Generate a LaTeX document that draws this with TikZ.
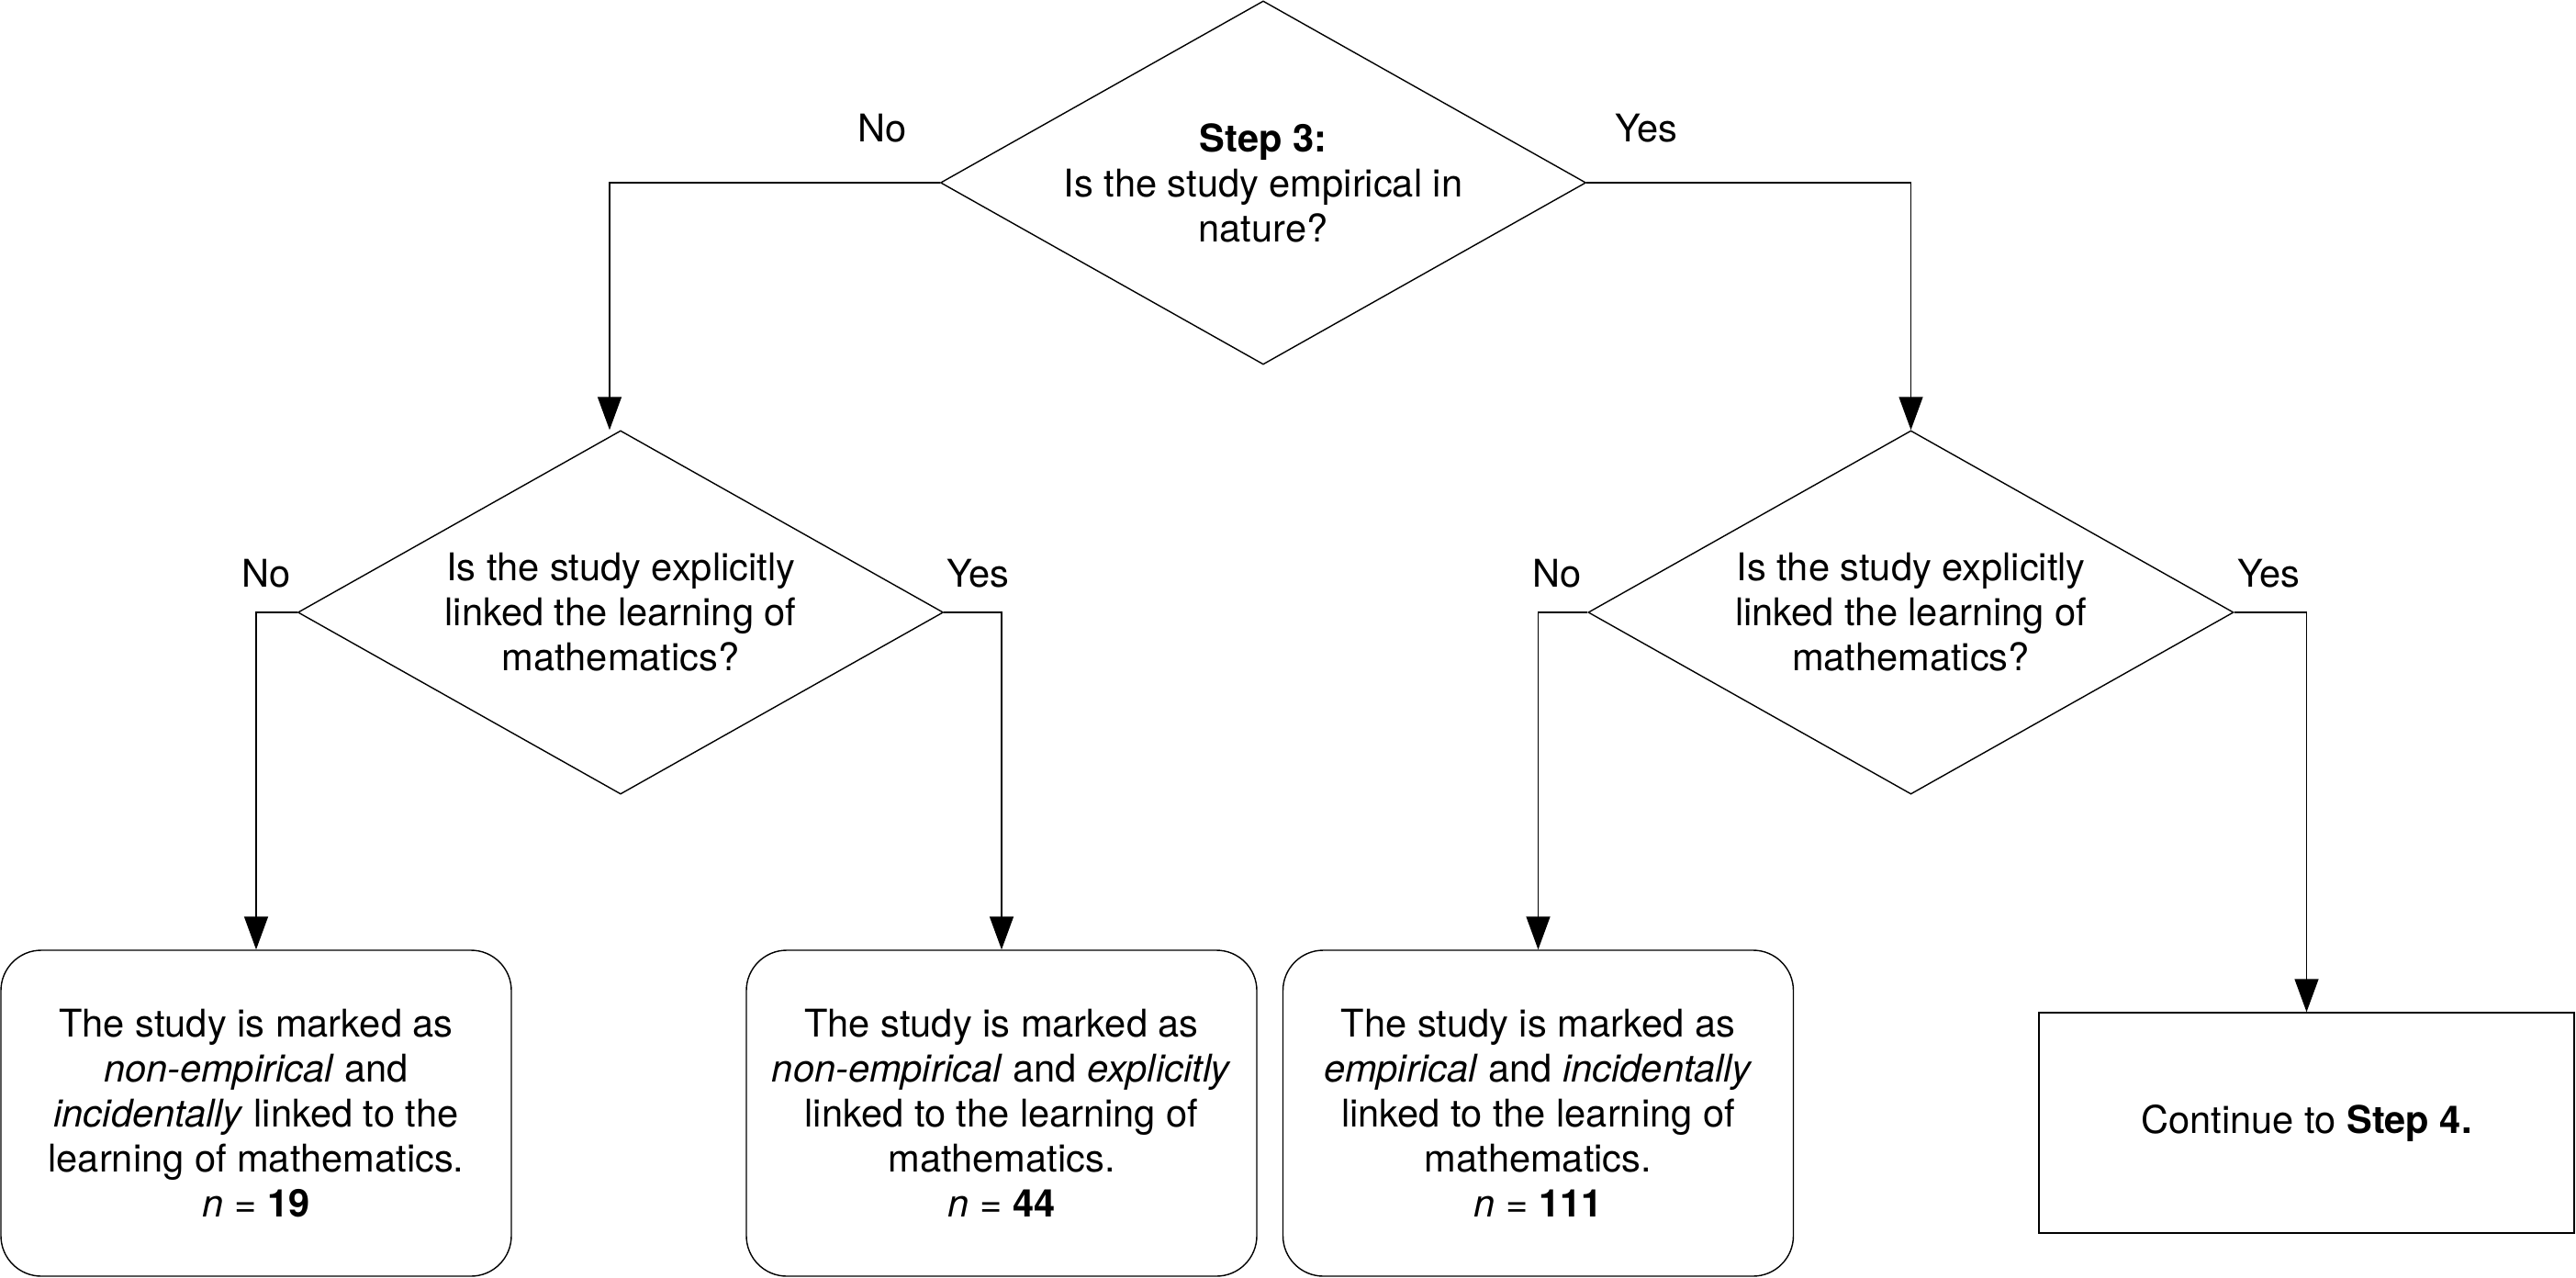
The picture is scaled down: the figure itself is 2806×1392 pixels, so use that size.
\documentclass[tikz,border=0pt]{standalone}
\usepackage{fontspec}
\setmainfont{TeX Gyre Heros}
\usetikzlibrary{shapes.geometric,arrows.meta}
\begin{document}
\begin{tikzpicture}[x=0.5pt,y=-0.5pt,
  every node/.style={font=\fontsize{20.8pt}{24.5pt}\selectfont},
  dec/.style={shape=diamond, draw, line width=0.7pt, inner sep=0pt, minimum width=351.5pt, minimum height=198pt},
  dtext/.style={align=center, inner sep=0pt},
  res/.style={draw, line width=0.7pt, rounded corners=22pt, minimum width=278pt, minimum height=177.5pt, align=center, inner sep=0pt},
  fin/.style={draw, line width=0.7pt, minimum width=291.5pt, minimum height=120pt, align=center, inner sep=0pt},
  lbl/.style={inner sep=0pt},
  arr/.style={draw, line width=0.7pt, -{Triangle[length=18pt,width=13pt]}},
]
\useasboundingbox (0,0) rectangle (2806,1392);

\node[dec] (d1) at (1376,199) {};
\node[dtext] (t1) at (d1.center) {\textbf{Step 3:}\\Is the study empirical in\\nature?};
\node[dec] (d2) at (676,667) {};
\node[dtext] (t2) at (d2.center) {Is the study explicitly\\linked the learning of\\mathematics?};
\node[dec] (d3) at (2081.5,667) {};
\node[dtext] (t3) at (d3.center) {Is the study explicitly\\linked the learning of\\mathematics?};

\node[res] (b1) at (279,1212.5) {The study is marked as\\\textit{non-empirical} and\\\textit{incidentally} linked to the\\learning of mathematics.\\\textit{n} = \textbf{19}};
\node[res] (b2) at (1091,1212.5) {The study is marked as\\\textit{non-empirical} and \textit{explicitly}\\linked to the learning of\\mathematics.\\\textit{n} = \textbf{44}};
\node[res] (b3) at (1675.5,1212.5) {The study is marked as\\\textit{empirical} and \textit{incidentally}\\linked to the learning of\\mathematics.\\\textit{n} = \textbf{111}};
\node[fin] (b4) at (2512.5,1223) {Continue to \textbf{Step 4.}};

\node[lbl] (l1) at (961,140) {No};
\node[lbl] (l2) at (1793,140) {Yes};
\node[lbl] (l3) at (290,625) {No};
\node[lbl] (l4) at (1065,625) {Yes};
\node[lbl] (l5) at (1696,625) {No};
\node[lbl] (l6) at (2471,625) {Yes};

\draw[arr] (d1.west) -| ([xshift=-6pt]d2.north);
\draw[arr] (d1.east) -| (d3.north);
\draw[arr] (d2.west) -| (b1.north);
\draw[arr] (d2.east) -| (b2.north);
\draw[arr] (d3.west) -| (b3.north);
\draw[arr] (d3.east) -| (b4.north);
\end{tikzpicture}
\end{document}
